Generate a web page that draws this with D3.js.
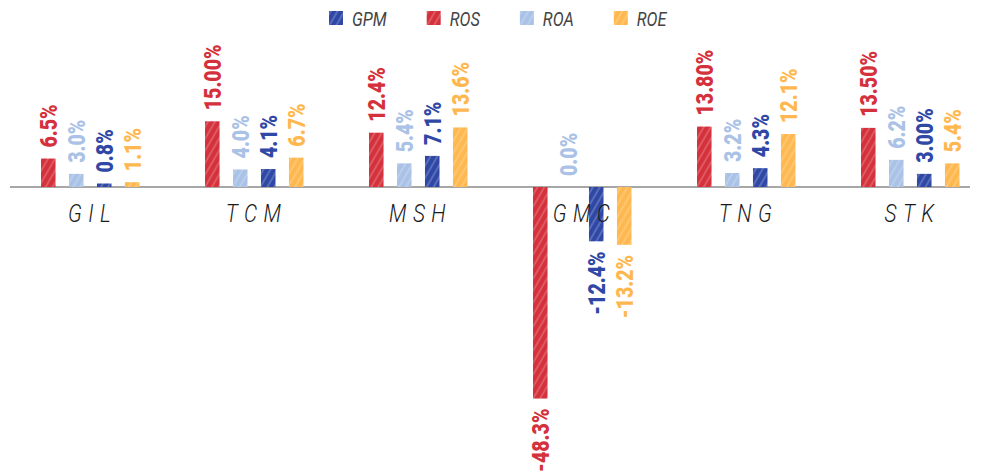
<!DOCTYPE html>
<html><head><meta charset="utf-8">
<script src="https://cdn.jsdelivr.net/npm/d3@7"></script>
<style>
html,body{margin:0;padding:0;background:#fff;}
svg{display:block;}
</style></head>
<body><svg id="chart" width="984" height="475"></svg>
<script>
// ---- data ----
const categories = ["GIL", "TCM", "MSH", "GMC", "TNG", "STK"];
const legendOrder = ["GPM", "ROS", "ROA", "ROE"];
const barOrder = ["ROS", "ROA", "GPM", "ROE"];
const GPM = [0.8, 4.1, 7.1, -12.4, 4.3, 3.0];
const ROS = [6.5, 15.0, 12.4, -48.3, 13.8, 13.5];
const ROA = [3.0, 4.0, 5.4, 0.0, 3.2, 6.2];
const ROE = [1.1, 6.7, 13.6, -13.2, 12.1, 5.4];
const GPMLabels = ["0.8%", "4.1%", "7.1%", "-12.4%", "4.3%", "3.00%"];
const ROSLabels = ["6.5%", "15.00%", "12.4%", "-48.3%", "13.80%", "13.50%"];
const ROALabels = ["3.0%", "4.0%", "5.4%", "0.0%", "3.2%", "6.2%"];
const ROELabels = ["1.1%", "6.7%", "13.6%", "-13.2%", "12.1%", "5.4%"];

const seriesValues = {GPM, ROS, ROA, ROE};
const seriesLabels = {GPM: GPMLabels, ROS: ROSLabels, ROA: ROALabels, ROE: ROELabels};
const colors = {GPM: "#2f48a6", ROS: "#d4313c", ROA: "#a9c2e6", ROE: "#ffb84f"};

// ---- layout ----
const svg = d3.select("#chart");

const x0 = d3.scaleBand().domain(categories).range([8.5, 992.5]).padding(0);
const x1 = d3.scaleBand().domain(barOrder).range([32.5, 131]).paddingInner(0.48).paddingOuter(0);
const y = d3.scaleLinear().domain([-55, 20]).range([187 + 55 * 4.38, 187 - 20 * 4.38]);

// hatch patterns
const defs = svg.append("defs");
legendOrder.forEach(k => {
  const p = defs.append("pattern")
    .attr("id", "hatch-" + k)
    .attr("patternUnits", "userSpaceOnUse")
    .attr("width", 6).attr("height", 6)
    .attr("patternTransform", "rotate(30)");
  p.append("rect").attr("width", 6).attr("height", 6).attr("fill", colors[k]);
  p.append("line").attr("x1", 1).attr("y1", 0).attr("x2", 1).attr("y2", 6)
    .attr("stroke", "#ffffff").attr("stroke-opacity", 0.28).attr("stroke-width", 1.4);
});

// flat data
const flat = [];
categories.forEach((c, i) => {
  barOrder.forEach(k => {
    flat.push({cat: c, key: k, value: seriesValues[k][i], label: seriesLabels[k][i]});
  });
});

// zero line
svg.append("line")
  .attr("x1", 10).attr("x2", 970)
  .attr("y1", y(0)).attr("y2", y(0))
  .attr("stroke", "#8a8a8a").attr("stroke-width", 1.5);

// bars
svg.append("g").selectAll("rect").data(flat).join("rect")
  .attr("x", d => x0(d.cat) + x1(d.key))
  .attr("width", x1.bandwidth())
  .attr("y", d => Math.min(y(d.value), y(0)))
  .attr("height", d => Math.abs(y(d.value) - y(0)))
  .attr("fill", d => "url(#hatch-" + d.key + ")");

// value labels
svg.append("g").selectAll("text").data(flat).join("text")
  .attr("transform", d => {
    const cx = x0(d.cat) + x1(d.key) + x1.bandwidth() / 2;
    const yy = d.value >= 0 ? y(d.value) - 11 : y(d.value) + 10;
    return `translate(${cx},${yy}) rotate(-90) scale(0.98,1.22)`;
  })
  .attr("text-anchor", d => d.value >= 0 ? "start" : "end")
  .attr("dy", "0.36em")
  .attr("font-family", "Roboto, sans-serif")
  .attr("font-weight", 900)
  .attr("font-size", 20)
  .attr("fill", d => colors[d.key])
  .text(d => d.label);

// category labels
svg.append("g").selectAll("text").data(categories).join("text")
  .attr("transform", d => `translate(${x0(d) + x0.bandwidth() / 2 + 2},222) scale(0.8,1)`)
  .attr("text-anchor", "middle")
  .attr("font-family", "Roboto, sans-serif")
  .attr("font-style", "italic")
  .attr("font-weight", 300)
  .attr("font-size", 26)
  .attr("letter-spacing", 8)
  .attr("fill", "#1a1a1a")
  .text(d => d);

// legend
const lg = svg.append("g");
let lx = 329;
legendOrder.forEach(k => {
  const g = lg.append("g").attr("transform", `translate(${lx},0)`);
  g.append("rect").attr("x", 0).attr("y", 11).attr("width", 14).attr("height", 14)
    .attr("fill", "url(#hatch-" + k + ")");
  const t = g.append("text").attr("transform", "translate(23,26) scale(0.78,1)")
    .attr("font-family", "Roboto, sans-serif")
    .attr("font-style", "italic")
    .attr("font-size", 21)
    .attr("fill", "#444")
    .text(k);
  lx += 23 + t.node().getComputedTextLength() * 0.78 + 40;
});
</script></body></html>
